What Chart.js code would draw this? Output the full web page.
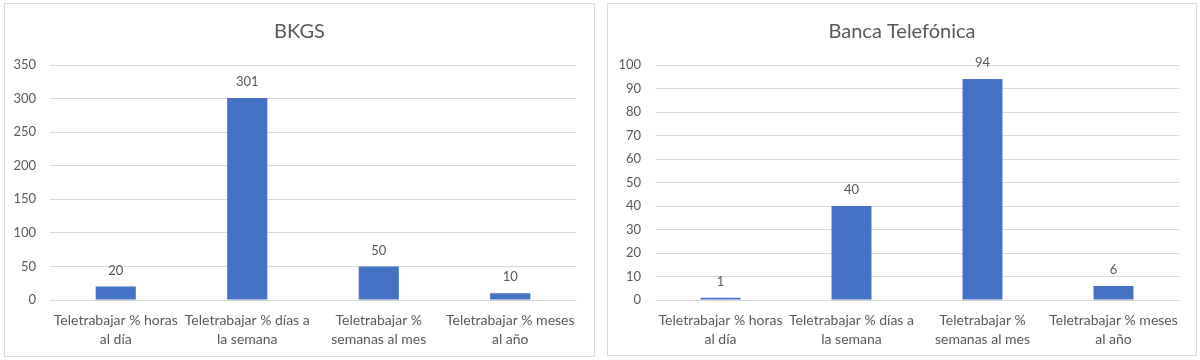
<!DOCTYPE html>
<html><head><meta charset="utf-8">
<script src="https://cdn.jsdelivr.net/npm/chart.js@4/dist/chart.umd.min.js"></script>
<style>
body{margin:0;background:#fff;width:1200px;height:360px;position:relative;overflow:hidden;}
.box{position:absolute;border:1px solid #d9d9d9;background:#fff;}
canvas{display:block;}
</style></head><body>
<div class="box" style="left:4px;top:3px;width:589px;height:352px;"><canvas id="c1" width="589" height="352"></canvas></div>
<div class="box" style="left:607px;top:3px;width:588px;height:351px;"><canvas id="c2" width="588" height="351"></canvas></div>
<script>
const categories = [
  ["Teletrabajar % horas", "al día"],
  ["Teletrabajar % días a", "la semana"],
  ["Teletrabajar %", "semanas al mes"],
  ["Teletrabajar % meses", "al año"]
];
const titleLeft = "BKGS";
const valuesLeft = [20, 301, 50, 10];
const titleRight = "Banca Telefónica";
const valuesRight = [1, 40, 94, 6];
const yLeft = {min: 0, max: 350, step: 50};
const yRight = {min: 0, max: 100, step: 10};

const FONT = "Lato, 'Open Sans', sans-serif";
const GRAY = "#595959";
const GRID = "#d9d9d9";
const BAR = "#4472c4";

const valueLabels = {
  id: 'valueLabels',
  afterDatasetsDraw(chart) {
    const ctx = chart.ctx;
    ctx.save();
    ctx.font = "13px " + FONT;
    ctx.fillStyle = GRAY;
    ctx.textAlign = 'center';
    ctx.textBaseline = 'middle';
    chart.data.datasets.forEach((ds, di) => {
      chart.getDatasetMeta(di).data.forEach((el, i) => {
        ctx.fillText(String(ds.data[i]), el.x, el.y - 16);
      });
    });
    ctx.restore();
  }
};

function make(id, title, values, y, yWidth, xHeight, rightGap) {
  return new Chart(document.getElementById(id), {
    type: 'bar',
    data: {labels: categories, datasets: [{data: values, backgroundColor: BAR, barPercentage: 0.5, categoryPercentage: 0.61}]},
    options: {
      responsive: false, animation: false,
      layout: {padding: {left: 0, right: 0, top: 4, bottom: 0}},
      plugins: {
        legend: {display: false}, tooltip: {enabled: false},
        title: {display: true, text: title, color: GRAY, font: {family: FONT, size: 20, weight: 'normal'}, padding: {top: 12, bottom: 21}}
      },
      scales: {
        x: {
          afterFit(scale) { scale.height = xHeight; },
          grid: {display: false, drawTicks: false},
          border: {display: true, color: GRID},
          ticks: {color: GRAY, font: {family: FONT, size: 14, lineHeight: 1.36}, maxRotation: 0, autoSkip: false, padding: 11}
        },
        y: {
          min: y.min, max: y.max,
          afterFit(scale) { scale.width = yWidth; },
          grid: {color: GRID, drawTicks: false},
          border: {display: false},
          ticks: {stepSize: y.step, color: GRAY, font: {family: FONT, size: 13}, padding: 14}
        },
        gap: {
          type: 'linear', position: 'right', display: true,
          afterFit(scale) { scale.width = rightGap; },
          grid: {display: false, drawTicks: false},
          border: {display: false},
          ticks: {display: false}
        }
      }
    },
    plugins: [valueLabels]
  });
}
make('c1', titleLeft, valuesLeft, yLeft, 45, 56, 18);
make('c2', titleRight, valuesRight, yRight, 47, 55, 17);
</script>
</body></html>
